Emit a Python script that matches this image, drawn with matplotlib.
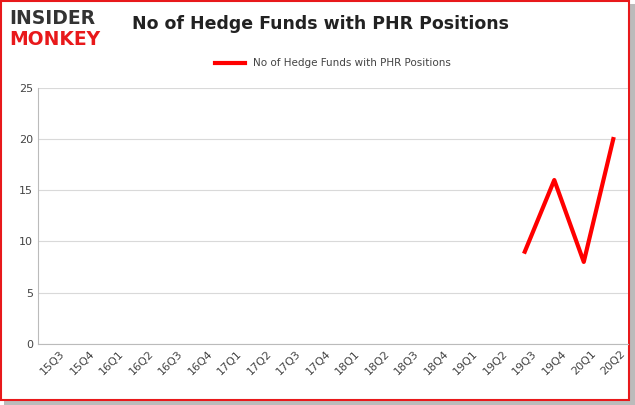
import matplotlib

matplotlib.use("Agg")
import matplotlib.pyplot as plt  # noqa: E402
import numpy as np  # noqa: E402
from matplotlib.patches import Rectangle  # noqa: E402

quarters = ["15Q3", "15Q4", "16Q1", "16Q2", "16Q3", "16Q4", "17Q1", "17Q2", "17Q3", "17Q4",
            "18Q1", "18Q2", "18Q3", "18Q4", "19Q1", "19Q2", "19Q3", "19Q4", "20Q1", "20Q2"]
funds = [np.nan] * 16 + [9, 16, 8, 20]
series_label = "No of Hedge Funds with PHR Positions"

fig = plt.figure(figsize=(6.35, 4.05), dpi=100)
# red frame with shadow
fig.patches.append(Rectangle((0.006, 0.0), 0.994, 0.99, transform=fig.transFigure,
                             facecolor="#bbbbbb", edgecolor="none", zorder=-2))
fig.patches.append(Rectangle((0.002, 0.012), 0.988, 0.985, transform=fig.transFigure,
                             facecolor="white", edgecolor="#e8191b", lw=1.5, zorder=-1))

ax = fig.add_axes([0.06, 0.151, 0.929, 0.632])
x = np.arange(len(quarters))
ax.plot(x, funds, color="#ff0000", lw=3, label=series_label)
ax.set_xlim(-0.5, len(quarters) - 0.5)
ax.set_ylim(0, 25)
ax.set_yticks(range(0, 26, 5))
ax.set_xticks(x)
ax.set_xticklabels(quarters, rotation=45, fontsize=8, color="#444444")
ax.tick_params(axis="y", labelsize=8, labelcolor="#444444", length=0)
ax.tick_params(axis="x", length=0)
ax.grid(axis="y", color="#d9d9d9", lw=0.8)
ax.set_axisbelow(True)
for s in ["top", "right"]:
    ax.spines[s].set_visible(False)
for s in ["left", "bottom"]:
    ax.spines[s].set_color("#bbbbbb")
leg = ax.legend(loc="lower center", bbox_to_anchor=(0.5, 1.04), frameon=False, fontsize=7.5,
                handlelength=2.8)
for t in leg.get_texts():
    t.set_color("#444444")

fig.text(0.505, 0.94, "No of Hedge Funds with PHR Positions", ha="center", va="center",
         fontsize=12.5, fontweight="bold", color="#222222")
fig.text(0.015, 0.955, "INSIDER", fontsize=13.5, fontweight="bold", color="#333333",
         va="center")
fig.text(0.015, 0.903, "MONKEY", fontsize=13.5, fontweight="bold", color="#e8191b",
         va="center")

fig.savefig("out.png", dpi=100)
